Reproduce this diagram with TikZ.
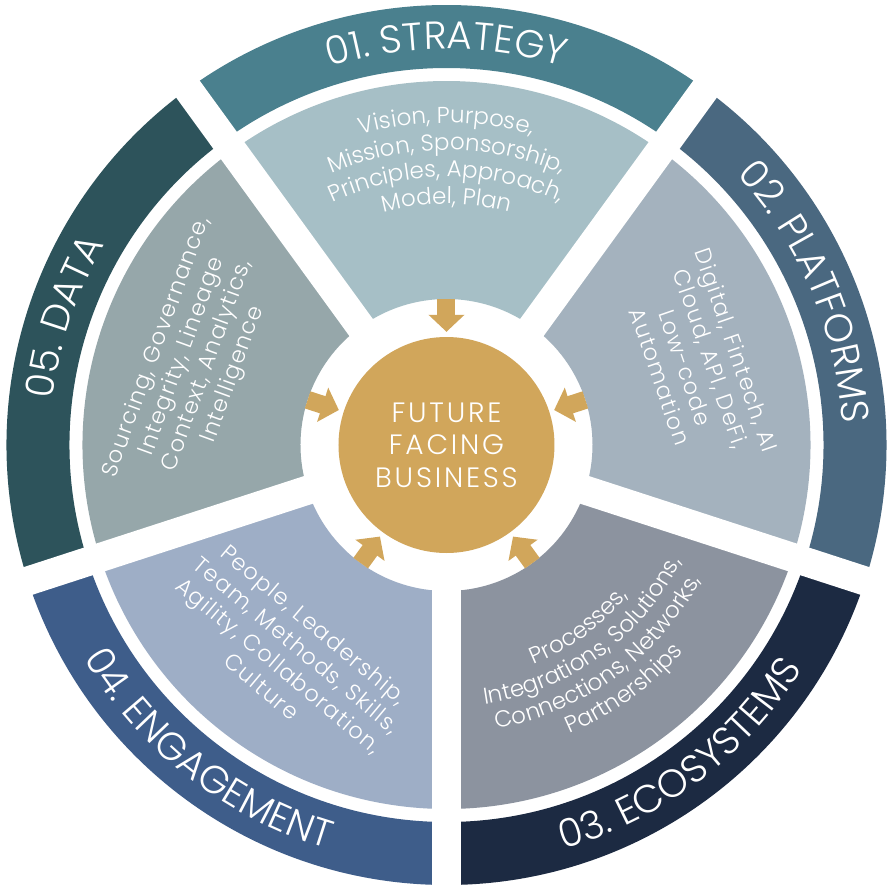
\documentclass[tikz,border=0pt]{standalone}
\usepackage{fontspec}
\setmainfont{Poppins Light}
\newfontfamily\noteface{Poppins Light}[LetterSpace=6]
\newfontfamily\coreface{Poppins Light}[LetterSpace=10]
\usetikzlibrary{arrows.meta,decorations.text}
\definecolor{gold}{HTML}{D1A65B}
\definecolor{stratband}{HTML}{4A808E}
\definecolor{stratfill}{HTML}{A6BFC6}
\definecolor{platband}{HTML}{4A6880}
\definecolor{platfill}{HTML}{A4B2BE}
\definecolor{ecoband}{HTML}{1C2A42}
\definecolor{ecofill}{HTML}{8C939F}
\definecolor{engband}{HTML}{3E5D8A}
\definecolor{engfill}{HTML}{9EAEC6}
\definecolor{databand}{HTML}{2D535B}
\definecolor{datafill}{HTML}{96A7AA}
\newcommand\bandfont{\fontsize{39}{40}\selectfont}
\newcommand\arcfont{\fontsize{23}{27}\selectfont}
\newcommand\notefont{\noteface\fontsize{22.5}{27}\selectfont}
% colour, from angle, to angle, inner radius, outer radius
\newcommand\ringpart[5]{\fill[#1] (#2:#4) arc[start angle=#2,end angle=#3,radius=#4] -- (#3:#5) arc[start angle=#3,end angle=#2,radius=#5] -- cycle;}
% font, from angle, to angle, radius, text
\newcommand\arctext[5]{\path[decorate,decoration={text along path,text color=white,text align=center,text={|#1|#5}}] (#2:#4) arc[start angle=#2,end angle=#3,radius=#4];}

\begin{document}
\begin{tikzpicture}[x=1pt,y=1pt,
  gap/.style={draw=white,line width=29pt},
  note/.style={text=white,align=center,font=\notefont,inner sep=0pt},
  core/.style={circle,fill=gold,minimum size=216pt,inner sep=0pt,text=white,align=center,font=\coreface\fontsize{28}{32.5}\selectfont},
  feed/.style={draw=gold,line width=18pt,-{Triangle[width=35pt,length=17pt]},shorten >=5pt}]
  \useasboundingbox[fill=white] (-446.5,-450) rectangle (447.5,445);
  \ringpart{stratband}{54}{126}{377}{440}
  \ringpart{stratfill}{54}{126}{146}{364}
  \ringpart{platband}{-18}{54}{377}{440}
  \ringpart{platfill}{-18}{54}{146}{364}
  \ringpart{ecoband}{-90}{-18}{377}{440}
  \ringpart{ecofill}{-90}{-18}{146}{364}
  \ringpart{engband}{198}{270}{377}{440}
  \ringpart{engfill}{198}{270}{146}{364}
  \ringpart{databand}{126}{198}{377}{440}
  \ringpart{datafill}{126}{198}{146}{364}
  \foreach \a in {54,126,198,270,342}
    \draw[gap] (0,0) -- (\a:460);

  \arctext{\bandfont}{135}{45}{396}{01. STRATEGY}
  \arctext{\bandfont}{70}{-24}{396}{02. PLATFORMS}
  \arctext{\bandfont}{-104}{-2}{421}{03. ECOSYSTEMS}
  \arctext{\bandfont}{180}{284}{421}{04. ENGAGEMENT}
  \arctext{\bandfont}{200}{123}{396}{05. DATA}

  \arctext{\arcfont}{140}{40}{322}{Vision, Purpose,}
  \arctext{\arcfont}{140}{40}{295}{Mission, Sponsorship,}
  \arctext{\arcfont}{140}{40}{268}{Principles, Approach,}
  \arctext{\arcfont}{140}{40}{241}{Model, Plan}
  \node[note,rotate=-71] (platnote) at (18:265) {Digital, Fintech, AI\\Cloud, API, DeFi,\\Low-code\\Automation};
  \arctext{\arcfont}{-104}{-4}{236}{Processes,}
  \arctext{\arcfont}{-104}{-4}{262}{Integrations, Solutions,}
  \arctext{\arcfont}{-104}{-4}{288}{Connections, Networks,}
  \arctext{\arcfont}{-104}{-4}{314}{Partnerships}
  \node[note,rotate=-40] (engnote) at (233:263) {People, Leadership,\\Team, Methods, Skills,\\Agility, Collaboration,\\Culture};
  \node[note,rotate=70] (datanote) at (161.5:265) {Sourcing, Governance,\\Integrity, Lineage\\Context, Analytics,\\Intelligence};

  \node[core] (core) at (0,0) {FUTURE\\FACING\\BUSINESS};
  \foreach \a [count=\i] in {90,18,-54,-126,162} {
    \coordinate (tail\i) at (\a:146);
    \draw[feed] (tail\i) -- (core);
  }
\end{tikzpicture}
\end{document}
